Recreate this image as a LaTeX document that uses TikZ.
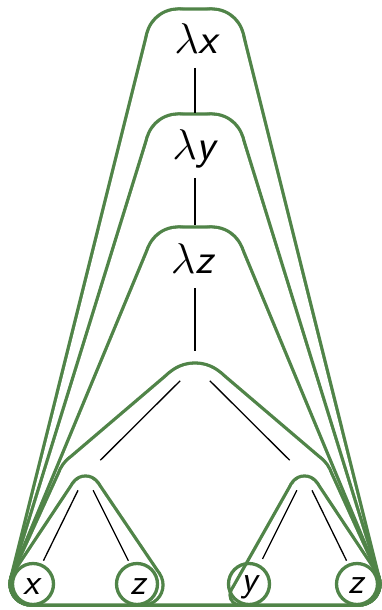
\RequirePackage{fix-cm}
\documentclass[tikz,border=0pt]{standalone}
\usepackage{fontspec}
\usetikzlibrary{calc}
\definecolor{hullc}{RGB}{80,132,72}
% hull of two top circles (r=32, centres x=178,212 at height #1) and the outer leaves (r=21)
% #2 right normal angle, #3 left normal angle, #4 offset, #5 colour
\newcommand\lamhullshape[5]{%
  \fill[#5] ($(178,#1)+(-90:{32+(#4)})$) -- ($(212,#1)+(-90:{32+(#4)})$)
    -- ($(212,#1)+(#2:{32+(#4)})$) -- ($(hZb)+(#2:{21+(#4)})$)
    -- ($(hZb)+(90:{21+(#4)})$) -- ($(hXa)+(90:{21+(#4)})$)
    -- ($(hXa)+(#3:{21+(#4)})$) -- ($(178,#1)+(#3:{32+(#4)})$) -- cycle;
  \fill[#5] (178,#1) circle[radius={32+(#4)}];
  \fill[#5] (212,#1) circle[radius={32+(#4)}];
  \fill[#5] (hXa) circle[radius={21+(#4)}];
  \fill[#5] (hZb) circle[radius={21+(#4)}];
}
\newcommand\apphullshape[2]{%
  \fill[#2] ($(hA)+(-130.45:{39+(#1)})$) -- ($(hA)+(-49.55:{39+(#1)})$)
    -- ($(hRA)+(-49.55:{27+(#1)})$) -- ($(hRA)+(-24.51:{27+(#1)})$)
    -- ($(hZb)+(-24.51:{21+(#1)})$) -- ($(hZb)+(90:{21+(#1)})$)
    -- ($(hXa)+(90:{21+(#1)})$) -- ($(hXa)+(-155.49:{21+(#1)})$)
    -- ($(hLA)+(-155.49:{27+(#1)})$) -- ($(hLA)+(-130.45:{27+(#1)})$) -- cycle;
  \fill[#2] (hA) circle[radius={39+(#1)}];
  \fill[#2] (hRA) circle[radius={27+(#1)}];
  \fill[#2] (hLA) circle[radius={27+(#1)}];
  \fill[#2] (hXa) circle[radius={21+(#1)}];
  \fill[#2] (hZb) circle[radius={21+(#1)}];
}
\newcommand\leftapphull[2]{%
  \fill[#2] ($(hT)+(-146.43:{15+(#1)})$) -- ($(hT)+(-34.06:{15+(#1)})$)
    -- ($(hZa)+(-34.06:{20+(#1)})$) -- ($(hZa)+(90:{20+(#1)})$)
    -- ($(hXa)+(90:{21+(#1)})$) -- ($(hXa)+(-146.43:{21+(#1)})$) -- cycle;
  \fill[#2] (hT) circle[radius={15+(#1)}];
  \fill[#2] (hZa) circle[radius={20+(#1)}];
  \fill[#2] (hXa) circle[radius={21+(#1)}];
}
\newcommand\rightapphull[2]{%
  \fill[#2] ($(hTr)+(-150.54:{15+(#1)})$) -- ($(hTr)+(-33.57:{15+(#1)})$)
    -- ($(hZb)+(-33.57:{21+(#1)})$) -- ($(hZb)+(90:{21+(#1)})$)
    -- ($(hY)+(90:{10+(#1)})$) -- ($(hY)+(-150.54:{10+(#1)})$) -- cycle;
  \fill[#2] (hTr) circle[radius={15+(#1)}];
  \fill[#2] (hZb) circle[radius={21+(#1)}];
  \fill[#2] (hY) circle[radius={10+(#1)}];
}
\begin{document}
\begin{tikzpicture}[x=1pt,y=-1pt,
  edge/.style={black, line width=1.3pt},
  lab/.style={font=\fontsize{43}{45}\selectfont, inner sep=0pt, anchor=base},
  leaflab/.style={font=\fontsize{37}{39}\selectfont\sffamily\itshape, inner sep=0pt, anchor=base},
  leafc/.style={draw=hullc, line width=3.3pt, circle, minimum size=41pt, inner sep=0pt}]
\useasboundingbox (0,0) rectangle (381,610);
\fill[white] (0,0) rectangle (381,610);
% hull construction points
\coordinate (hXa) at (31,584);
\coordinate (hZb) at (359,584);
\coordinate (hA) at (195,402);
\coordinate (hLA) at (85,480);
\coordinate (hRA) at (305,480);
\coordinate (hT) at (85.5,491);
\coordinate (hZa) at (143,585);
\coordinate (hTr) at (304.5,491);
\coordinate (hY) at (240,595);
% tree vertices
\coordinate (tlx) at (195,42);
\coordinate (tly) at (195,150);
\coordinate (tlz) at (195,258);
\coordinate (tapp) at (195,366);
\coordinate (tla) at (85.5,475);
\coordinate (tra) at (304.5,475);
\coordinate (tx) at (32,584);
\coordinate (tza) at (140,584);
\coordinate (ty) at (250,584);
\coordinate (tzb) at (358,584);
% hulls, outermost first
\lamhullshape{41}{-14.03}{-165.97}{1.65}{hullc}
\lamhullshape{41}{-14.03}{-165.97}{-1.65}{white}
\lamhullshape{146}{-17.19}{-162.81}{1.65}{hullc}
\lamhullshape{146}{-17.19}{-162.81}{-1.65}{white}
\lamhullshape{259}{-22.57}{-157.43}{1.65}{hullc}
\lamhullshape{259}{-22.57}{-157.43}{-1.65}{white}
\apphullshape{1.65}{hullc}
\apphullshape{-1.65}{white}
\leftapphull{1.65}{hullc}
\leftapphull{-1.65}{white}
\rightapphull{1.65}{hullc}
\rightapphull{-1.65}{white}
% leaf circles
\node[leafc] (cx) at (33,584) {};
\node[leafc] (cza) at (137,584) {};
\node[leafc] (cy) at (249,584) {};
\node[leafc] (czb) at (357,584) {};
% edges
\draw[edge, shorten <=26pt, shorten >=37pt] (tlx) -- (tly);
\draw[edge, shorten <=28pt, shorten >=33pt] (tly) -- (tlz);
\draw[edge, shorten <=30pt, shorten >=15pt] (tlz) -- (tapp);
\draw[edge, shorten <=21pt, shorten >=21pt] (tapp) -- (tla);
\draw[edge, shorten <=21pt, shorten >=21pt] (tapp) -- (tra);
\draw[edge, shorten <=17pt, shorten >=26pt] (tla) -- (tx);
\draw[edge, shorten <=17pt, shorten >=26pt] (tla) -- (tza);
\draw[edge, shorten <=17pt, shorten >=28pt] (tra) -- (ty);
\draw[edge, shorten <=17pt, shorten >=26pt] (tra) -- (tzb);
% labels
\node[lab] (lx) at (196,53) {$\lambda$\sffamily\itshape x};
\node[lab] (ly) at (194,159) {$\lambda$\sffamily\itshape y};
\node[lab] (lz) at (192,273) {$\lambda$\sffamily\itshape z};
\node[leaflab] (nx) at (31,594) {x};
\node[leaflab] (nza) at (138.5,594) {z};
\node[leaflab] (ny) at (249,591) {y};
\node[leaflab] (nzb) at (356.5,593) {z};
\end{tikzpicture}
\end{document}
